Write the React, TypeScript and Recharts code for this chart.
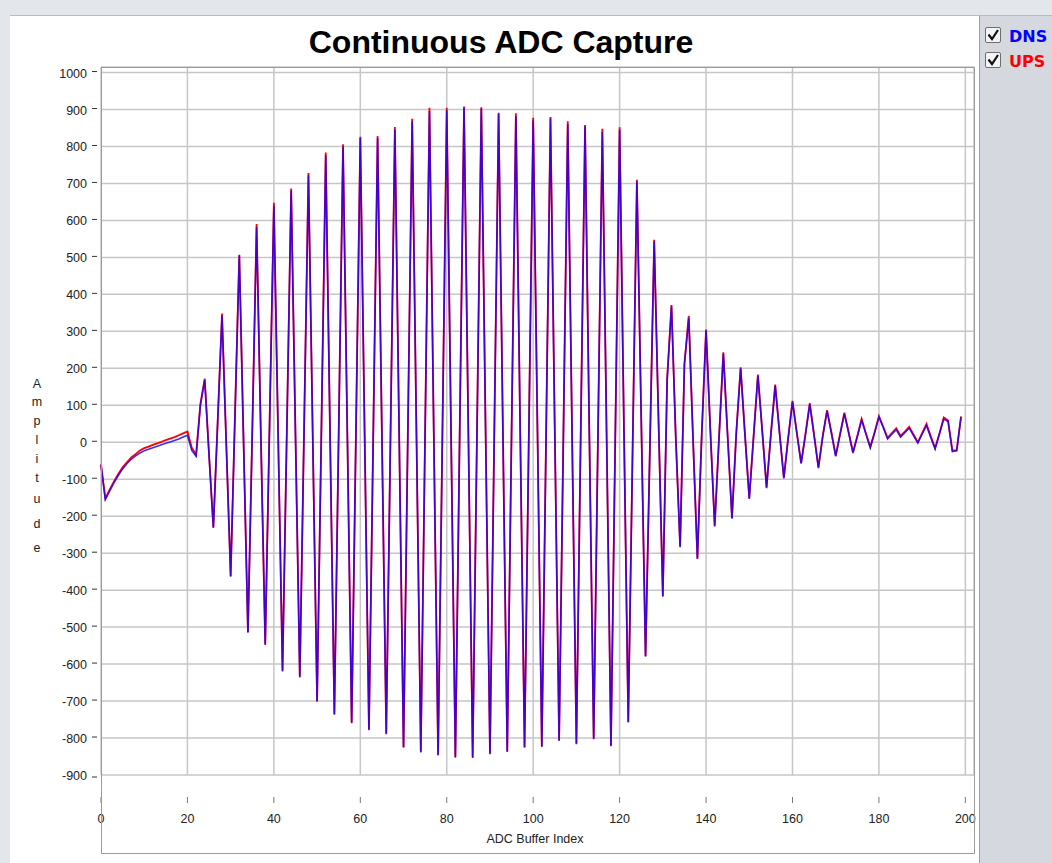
import { CartesianGrid, Line, LineChart, XAxis, YAxis } from "recharts";

// ADC sample values (index = position in array)
const dnsValues = [
  -62, -155, -132, -110, -90, -72, -58, -46, -37, -29,
  -23, -19, -15, -11, -7, -3, 1, 5, 9, 14,
  19, -22, -38, 100, 168, -35, -232, 55, 342, -10,
  -364, 70, 505, -5, -515, 25, 582, 10, -548, 45,
  640, 10, -620, 30, 680, 20, -636, 40, 722, 10,
  -702, 35, 776, 20, -737, 25, 800, 20, -760, 30,
  823, 22, -779, 22, 823, 18, -790, 28, 846, 12,
  -826, 22, 868, 15, -839, 30, 896, 25, -847, 25,
  897, 22, -853, 27, 905, 25, -854, 25, 903, 22,
  -844, 22, 888, 25, -838, 24, 882, 28, -826, 22,
  870, 26, -824, 27, 876, 30, -808, 25, 861, 22,
  -817, 20, 855, 18, -803, 22, 839, 12, -822, 15,
  845, 40, -758, -25, 705, 65, -580, -20, 544, 60,
  -418, 169, 368, 10, -284, 211, 336, 5, -316, 20,
  302, 30, -228, 10, 240, 15, -207, 25, 200, 20,
  -153, 15, 180, 30, -124, 20, 153, 25, -98, 10,
  109, 25, -58, 20, 103, 18, -70, 15, 84, 25,
  -38, 20, 77, 25, -29, 15, 60, 22, -15, 25,
  68, 40, 9, 22, 34, 14, 26, 38, 18, -2,
  22, 45, 13, -18, 22, 63, 56, -25, -23, 68,
];

const upsValues = [
  -60, -152, -128, -106, -86, -68, -54, -41, -32, -22,
  -16, -12, -7, -3, 1, 6, 10, 14, 19, 24,
  29, -15, -34, 104, 172, -33, -230, 57, 348, -9,
  -362, 72, 507, -4, -513, 27, 590, 12, -546, 47,
  648, 12, -618, 32, 686, 22, -634, 42, 728, 12,
  -700, 37, 784, 22, -735, 27, 806, 22, -758, 32,
  826, 24, -777, 24, 828, 20, -788, 30, 853, 14,
  -824, 24, 875, 17, -837, 32, 905, 27, -845, 27,
  905, 24, -851, 29, 908, 27, -852, 27, 906, 24,
  -842, 24, 891, 27, -836, 26, 890, 30, -824, 24,
  878, 28, -822, 29, 880, 32, -806, 27, 868, 24,
  -815, 22, 858, 20, -801, 24, 848, 14, -820, 17,
  852, 42, -756, -23, 710, 67, -578, -18, 548, 62,
  -416, 171, 371, 12, -282, 213, 342, 7, -314, 22,
  305, 32, -226, 12, 243, 17, -205, 27, 203, 22,
  -151, 17, 183, 32, -122, 22, 156, 27, -96, 12,
  112, 27, -56, 22, 106, 20, -68, 17, 87, 27,
  -36, 22, 80, 27, -27, 17, 63, 24, -13, 27,
  71, 42, 12, 25, 38, 17, 29, 42, 21, 0,
  25, 50, 16, -16, 24, 67, 59, -23, -21, 70,
];

const xTicks = [0, 20, 40, 60, 80, 100, 120, 140, 160, 180, 200];
const yTicks = [-900, -800, -700, -600, -500, -400, -300, -200, -100, 0, 100, 200, 300, 400, 500, 600, 700, 800, 900, 1000];
const ampLetters = ["A", "m", "p", "l", "i", "t", "u", "d", "e"];
const ampLetterY = [388, 406, 425, 444, 463, 482, 503, 528, 552];

const data = dnsValues.map((v, i) => ({ idx: i, dns: v, ups: upsValues[i] }));

const font = "Arial, 'Liberation Sans', sans-serif";

function XTick({ x, y, payload }: any) {
  return (
    <g>
      <line x1={x} x2={x} y1={y + 22} y2={y + 28} stroke="#777" />
      <text x={x} y={y + 48} textAnchor="middle" fontSize={12.5} fill="#222" fontFamily={font}>
        {payload.value}
      </text>
    </g>
  );
}

function YTick({ x, y, payload }: any) {
  const dy = payload.value === -900 ? 3 : 0;
  return (
    <g>
      <line x1={x - 9} x2={x - 4} y1={y + dy - 1} y2={y + dy - 1} stroke="#333" />
      <text x={x - 14} y={y + 5} textAnchor="end" fontSize={12.5} fill="#222" fontFamily={font}>
        {payload.value}
      </text>
    </g>
  );
}

function CheckBox({ y }: { y: number }) {
  return (
    <g>
      <rect x={985.5} y={y + 0.5} width={15} height={15} rx={1.5} fill="#f4f4f4" stroke="#6d6d6d" />
      <path d={`M988.5 ${y + 7.5} L992 ${y + 12} L998 ${y + 3}`} fill="none" stroke="#111" strokeWidth={2.2} />
    </g>
  );
}

export default function App() {
  return (
    <div style={{ position: "absolute", left: 0, top: 0, width: 1052, height: 863, background: "#e3e6ea", overflow: "hidden" }}>
      <div style={{ position: "absolute", left: 10, top: 15, width: 969, height: 848, background: "#fff", borderTop: "1px solid #b9bdc3" }} />
      <div style={{ position: "absolute", left: 979, top: 15, width: 73, height: 848, background: "#d5d9df", borderLeft: "1px solid #9aa0a8", borderTop: "1px solid #b9bdc3" }} />
      <div style={{ position: "absolute", left: 0, top: 0 }}>
        <LineChart width={1052} height={863} data={data} margin={{ top: 67, right: 78, bottom: 10, left: 41 }}>
          <CartesianGrid stroke="#c6c6c6" strokeWidth={1.5} />
          <XAxis
            type="number"
            dataKey="idx"
            domain={[0, 202]}
            ticks={xTicks}
            height={78}
            axisLine={false}
            tickLine={false}
            tickSize={0}
            tickMargin={0}
            tick={<XTick />}
          />
          <YAxis
            type="number"
            domain={[-900, 1015]}
            ticks={yTicks}
            width={60}
            axisLine={false}
            tickLine={false}
            tickSize={0}
            tickMargin={0}
            tick={<YTick />}
          />
          <Line type="linear" dataKey="ups" stroke="#ff0000" strokeWidth={1.8} dot={false} isAnimationActive={false} />
          <Line type="linear" dataKey="dns" stroke="#1a00ff" strokeOpacity={0.82} strokeWidth={1.6} dot={false} isAnimationActive={false} />
        </LineChart>
      </div>
      <div style={{ position: "absolute", left: 101, top: 67, width: 872, height: 785, border: "1px solid #9c9c9c", pointerEvents: "none" }} />
      <svg width={1052} height={863} style={{ position: "absolute", left: 0, top: 0, pointerEvents: "none" }}>
        <text x={501} y={53} textAnchor="middle" fontSize={32} fontWeight="bold" fill="#000" fontFamily={font}>
          Continuous ADC Capture
        </text>
        <text x={535} y={843} textAnchor="middle" fontSize={12.5} fill="#222" fontFamily={font}>
          ADC Buffer Index
        </text>
        {ampLetters.map((ch, i) => (
          <text key={i} x={37} y={ampLetterY[i]} textAnchor="middle" fontSize={12.5} fill="#222" fontFamily={font}>
            {ch}
          </text>
        ))}
        <CheckBox y={27} />
        <CheckBox y={52} />
        <text x={1009} y={42} fontSize={16} fontWeight="bold" fill="#0000ff" fontFamily="'DejaVu Sans', Verdana, sans-serif">DNS</text>
        <text x={1009} y={67} fontSize={16} fontWeight="bold" fill="#ff0000" fontFamily="'DejaVu Sans', Verdana, sans-serif">UPS</text>
      </svg>
    </div>
  );
}
